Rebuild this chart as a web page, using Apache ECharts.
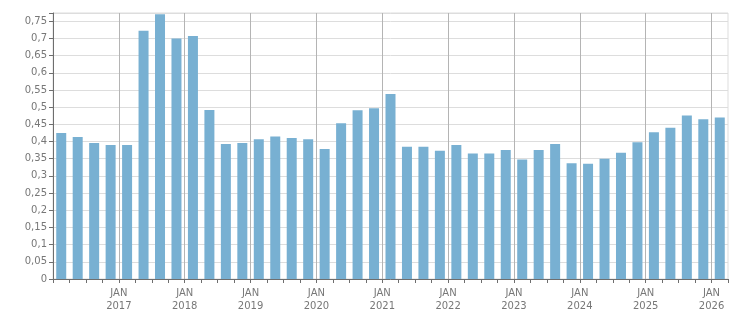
<!DOCTYPE html>
<html>
<head>
<meta charset="utf-8">
<script src="https://cdn.jsdelivr.net/npm/echarts@6/dist/echarts.min.js"></script>
<style>
  html, body { margin: 0; padding: 0; background: #fff; }
  #chart { width: 751px; height: 313px; }
</style>
</head>
<body>
<div id="chart"></div>
<script>
// quarterly values, 2016 Q1 .. 2026 Q1
const startYear = 2016
const quarterValues = [
  0.425, 0.413, 0.396, 0.390,
  0.390, 0.722, 0.770, 0.700,
  0.707, 0.492, 0.393, 0.396,
  0.407, 0.415, 0.410, 0.407,
  0.378, 0.453, 0.491, 0.497,
  0.538, 0.385, 0.385, 0.373,
  0.390, 0.365, 0.365, 0.375,
  0.348, 0.375, 0.393, 0.337,
  0.335, 0.350, 0.367, 0.398,
  0.427, 0.440, 0.476, 0.465,
  0.470
]
const monthLabel = 'JAN'

const chart = echarts.init(document.getElementById('chart'))

const barData = quarterValues.map((v, i) => [i + 0.5, v])

const option = {
  animation: false,
  grid: {
    left: 53,
    right: 23,
    top: 13,
    bottom: 32,
    show: true,
    borderColor: '#dddddd',
    borderWidth: 1
  },
  xAxis: {
    type: 'value',
    min: 0,
    max: quarterValues.length,
    interval: 1,
    axisLine: { lineStyle: { color: '#6e6e6e', width: 1 } },
    axisTick: { length: 4, lineStyle: { color: '#6e6e6e' } },
    axisLabel: {
      color: '#777',
      fontFamily: 'DejaVu Sans',
      fontSize: 10,
      lineHeight: 13,
      margin: 8,
      formatter: (v) => {
        if (v > 0 && v < quarterValues.length && v % 4 === 0) {
          return monthLabel + '\n' + (startYear + v / 4)
        }
        return ''
      }
    },
    splitLine: {
      show: true,
      lineStyle: {
        color: ['#b4b4b4', 'rgba(0,0,0,0)', 'rgba(0,0,0,0)', 'rgba(0,0,0,0)'],
        width: 1
      }
    }
  },
  yAxis: {
    type: 'value',
    min: 0,
    max: 0.774,
    interval: 0.05,
    axisLine: { show: true, lineStyle: { color: '#6e6e6e', width: 1 } },
    axisTick: { show: true, length: 4, lineStyle: { color: '#6e6e6e' } },
    axisLabel: {
      color: '#777',
      fontFamily: 'DejaVu Sans',
      fontSize: 10,
      margin: 6,
      formatter: (v) => {
        const k = Math.round(v / 0.05)
        if (Math.abs(v - k * 0.05) > 1e-6) return ''
        return String(Math.round(k * 5) / 100).replace('.', ',')
      }
    },
    splitLine: { lineStyle: { color: '#dddddd', width: 1 } }
  },
  series: [
    {
      type: 'bar',
      data: barData,
      barWidth: 10,
      itemStyle: { color: '#78b0d2' }
    }
  ]
}

chart.setOption(option)
</script>
</body>
</html>
